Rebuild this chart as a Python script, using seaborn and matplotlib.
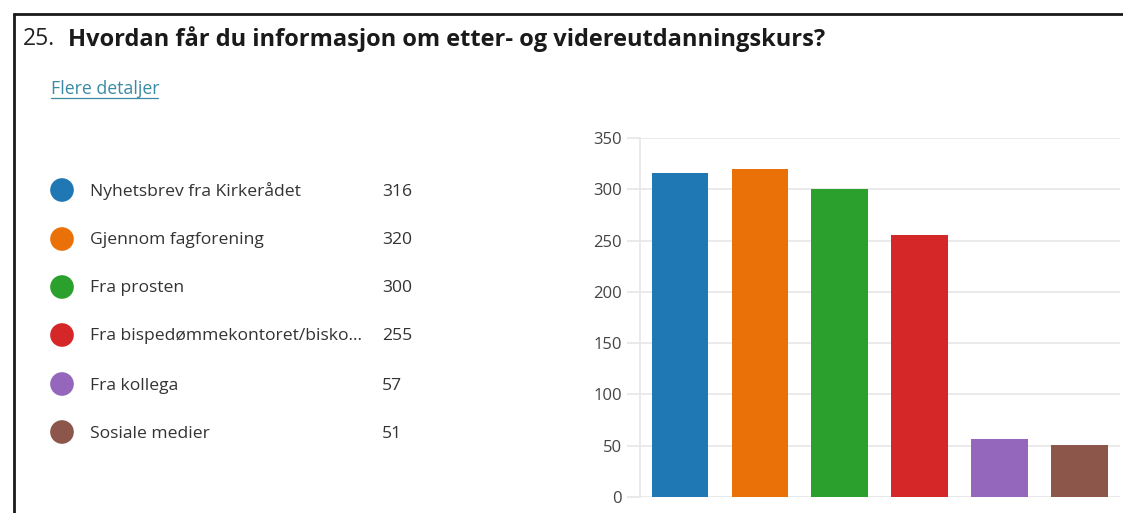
import matplotlib
matplotlib.use("Agg")
import matplotlib.pyplot as plt
import seaborn as sns
import pandas as pd

# ---- data ----
categories = ["Nyhetsbrev fra Kirkerådet", "Gjennom fagforening", "Fra prosten",
              "Fra bispedømmekontoret/bisko...", "Fra kollega", "Sosiale medier"]
values = [316, 320, 300, 255, 57, 51]
colors = ["#1f77b4", "#ea7108", "#2ca02c", "#d62728", "#9467bd", "#8c564b"]
yticks = [0, 50, 100, 150, 200, 250, 300, 350]
title_num = "25."
title_text = "Hvordan får du informasjon om etter- og videreutdanningskurs?"
link_text = "Flere detaljer"

sns.set_theme(style="white")
plt.rcParams["font.family"] = ["Open Sans", "DejaVu Sans"]

W, H = 1123, 513
fig = plt.figure(figsize=(W / 100, H / 100), dpi=100)
fig.patch.set_facecolor("white")

# ---- bar chart ----
x0, x1 = 640, 1119.5
y0, y1 = 497, 138
ax = fig.add_axes([x0 / W, (H - y0) / H, (x1 - x0) / W, (y0 - y1) / H])
df = pd.DataFrame({"cat": categories, "val": values})
sns.barplot(data=df, x="cat", y="val", hue="cat", palette=colors, legend=False,
            width=0.71, ax=ax, saturation=1, linewidth=0)
ax.set_xlim(-0.5, len(categories) - 0.5)
ax.set_ylim(0, 350)
ax.set_yticks(yticks)
ax.set_xticks([])
ax.set_xlabel("")
ax.set_ylabel("")
grid_c = "#e6e6e6"
ax.yaxis.grid(True, color=grid_c, linewidth=1.2)
ax.set_axisbelow(True)
for s in ["top", "right", "bottom"]:
    ax.spines[s].set_visible(False)
ax.spines["left"].set_color(grid_c)
ax.spines["left"].set_linewidth(1.2)
ax.tick_params(axis="y", length=9.5, width=1.2, color=grid_c, pad=3.5,
               labelsize=12, labelcolor="#444444", left=True)
ax.patch.set_alpha(0)

# ---- overlay for text / legend ----
ov = fig.add_axes([0, 0, 1, 1], zorder=5)
ov.set_xlim(0, W)
ov.set_ylim(H, 0)
ov.axis("off")
ov.patch.set_alpha(0)

# border
ov.plot([13, W], [13.5, 13.5], color="#1a1a1a", lw=2.0, solid_capstyle="butt")
ov.plot([13.5, 13.5], [13, H], color="#1a1a1a", lw=2.0, solid_capstyle="butt")

# title
ov.text(23, 39, title_num, fontsize=16.5, color="#222222", va="center", ha="left")
ov.text(68, 39, title_text, fontsize=17, fontweight="bold", color="#1a1a1a",
        va="center", ha="left")

# link
link_c = "#3a8aa3"
ov.text(51, 89.5, link_text, fontsize=12.8, color=link_c, va="center", ha="left")
ov.plot([51, 158], [97.5, 97.5], color=link_c, lw=0.9)

# legend
rows_y = [190, 239, 287, 335, 384, 432]
ov.scatter([62] * len(rows_y), rows_y, s=290, c=colors, linewidths=0)
for yy, lab, v in zip(rows_y, categories, values):
    ov.text(90, yy + 1.5, lab, fontsize=12.6, color="#333333", va="center", ha="left")
    ov.text(382, yy + 1.5, str(v), fontsize=12.6, color="#333333", va="center", ha="left")

fig.savefig("out.png", dpi=100, facecolor="white")
